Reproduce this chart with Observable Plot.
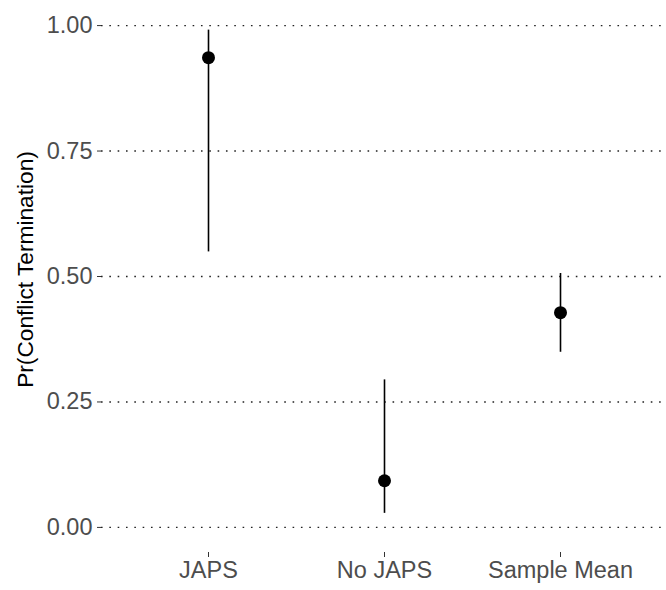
<!DOCTYPE html>
<html><head><meta charset="utf-8">
<script src="https://cdn.jsdelivr.net/npm/d3@7"></script>
<script src="https://cdn.jsdelivr.net/npm/@observablehq/plot@0.6"></script>
<style>body{margin:0;background:#fff}</style>
</head><body><div id="chart"></div>
<script>
const categories = ["JAPS", "No JAPS", "Sample Mean"];
const estimates = [0.936, 0.093, 0.428];
const lower = [0.549, 0.028, 0.349];
const upper = [0.991, 0.294, 0.506];
const yTicks = [0, 0.25, 0.5, 0.75, 1];
const yTitle = "Pr(Conflict Termination)";

const data = categories.map((c, i) => ({cat: c, est: estimates[i], lo: lower[i], hi: upper[i]}));

const chart = Plot.plot({
  width: 666, height: 590,
  marginLeft: 101, marginRight: 0, marginTop: 0, marginBottom: 38,
  style: {fontFamily: "'Liberation Sans', Arial, sans-serif", fontSize: "23px", background: "#fff"},
  x: {type: "point", domain: categories, padding: 0.6, label: null},
  y: {domain: [-0.05, 1.05], label: null},
  marks: [
    Plot.gridY(yTicks, {stroke: "#222", strokeOpacity: 1, strokeWidth: 1.4, strokeDasharray: "1.6,6.73", insetRight: 4}),
    Plot.axisY(yTicks, {tickFormat: d3.format(".2f"), tickSize: 4, tickPadding: 5, stroke: "#333", fill: "#4d4d4d", fontSize: 23.5, label: null}),
    Plot.axisX({tickSize: 5, tickPadding: 4, stroke: "#333", fill: "#4d4d4d", fontSize: 23.5, label: null}),
    Plot.text([yTitle], {frameAnchor: "left", textAnchor: "middle", rotate: -90, dx: -76, dy: -7, fill: "#000", fontSize: 22.7}),
    Plot.ruleX(data, {x: "cat", y1: "lo", y2: "hi", stroke: "#000", strokeWidth: 1.6}),
    Plot.dot(data, {x: "cat", y: "est", r: 6.5, fill: "#000", stroke: "none"})
  ]
});
document.getElementById("chart").appendChild(chart);
</script>
</body></html>
